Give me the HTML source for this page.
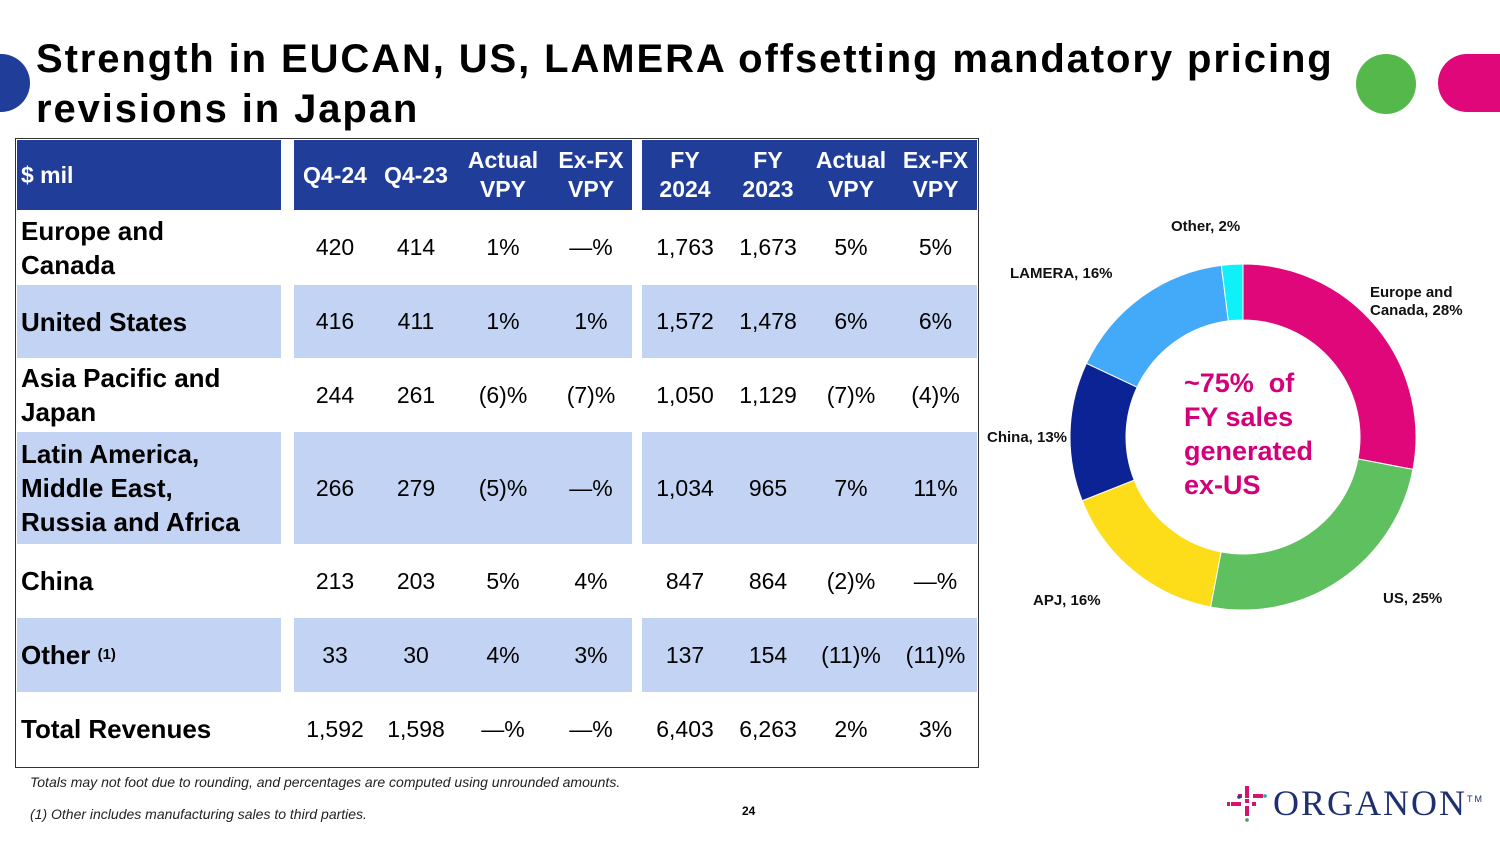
<!DOCTYPE html>
<html><head><meta charset="utf-8"><style>
body{margin:0;width:1500px;height:844px;background:#fff;position:relative;overflow:hidden;font-family:"Liberation Sans",Arial,sans-serif}
.a{position:absolute}
.title{left:36px;top:34px;font-size:40px;font-weight:bold;line-height:50px;color:#000;letter-spacing:1.9px}
.cell{position:absolute;display:flex;align-items:center;justify-content:center;text-align:center;font-size:23px;color:#000}
.lab{justify-content:flex-start;text-align:left;font-weight:bold;font-size:26px;line-height:34px;padding-left:4px}
.hd{color:#fff;font-weight:bold;font-size:23px;line-height:29px}
.dl{position:absolute;font-size:15px;font-weight:bold;color:#111;line-height:18px}
.foot{position:absolute;font-size:14px;font-style:italic;color:#222}
</style></head><body>
<div class="a" style="left:-28px;top:54px;width:58px;height:58px;border-radius:50%;background:#1f3d99"></div>
<div class="a" style="left:1356px;top:54px;width:60px;height:60px;border-radius:50%;background:#55b84a"></div>
<div class="a" style="left:1438px;top:54px;width:100px;height:58px;border-radius:29px;background:#e0077a"></div>
<div class="a title">Strength in EUCAN, US, LAMERA offsetting mandatory pricing<br>revisions in Japan</div>

<div class="a" style="left:15px;top:138px;width:962px;height:628px;border:1px solid #333"></div>
<div id="tbl"></div>

<svg class="a" style="left:0;top:0" width="1500" height="844" id="donut"></svg>
<div class="a" style="left:1184px;top:366px;font-size:27px;font-weight:bold;color:#d4007a;line-height:34px">~75%&nbsp; of<br>FY sales<br>generated<br>ex-US</div>
<div class="dl" style="left:1171px;top:218px">Other, 2%</div>
<div class="dl" style="left:1010px;top:265px">LAMERA, 16%</div>
<div class="dl" style="left:1370px;top:284px">Europe and<br>Canada, 28%</div>
<div class="dl" style="left:987px;top:429px">China, 13%</div>
<div class="dl" style="left:1033px;top:592px">APJ, 16%</div>
<div class="dl" style="left:1383px;top:590px">US, 25%</div>

<div class="foot" style="left:30px;top:774px">Totals may not foot due to rounding, and percentages are computed using unrounded amounts.</div>
<div class="foot" style="left:30px;top:806px">(1) Other includes manufacturing sales to third parties.</div>
<div class="a" style="left:742px;top:804px;font-size:12px;font-weight:bold">24</div>
<div class="a" style="left:1225px;top:780px;width:270px;height:50px">
<svg width="50" height="50" style="position:absolute;left:0;top:0">
<g fill="#d4146e"><rect x="20" y="6" width="4" height="12"/><rect x="20" y="26" width="4" height="10"/><rect x="6" y="22" width="10" height="4"/><rect x="28" y="14" width="10" height="4"/><rect x="13" y="14" width="4" height="4"/><rect x="27" y="22" width="4" height="4"/><rect x="20" y="19" width="4" height="4"/><rect x="2" y="22" width="3" height="4"/></g>
<circle cx="14" cy="17" r="1.8" fill="#1f3d99"/><circle cx="40" cy="16" r="1.8" fill="#1fa3b0"/><circle cx="22" cy="40" r="1.8" fill="#3aa845"/>
</svg>
<div style="position:absolute;left:48px;top:2px;font-family:'Liberation Serif',serif;font-size:36px;color:#1f3070;letter-spacing:2px">ORGANON<sup style="font-size:9px;font-family:'Liberation Sans'">TM</sup></div>
</div>

<script>
const rowLabels=["Europe and<br>Canada","United States","Asia Pacific and<br>Japan","Latin America,<br>Middle East,<br>Russia and Africa","China","Other&nbsp; <sup style='font-size:15px'>(1)</sup>","Total Revenues"];
const colHeads=["Q4-24","Q4-23","Actual<br>VPY","Ex-FX<br>VPY","FY<br>2024","FY<br>2023","Actual<br>VPY","Ex-FX<br>VPY"];
const q424=["420","416","244","266","213","33","1,592"];
const q423=["414","411","261","279","203","30","1,598"];
const qAct=["1%","1%","(6)%","(5)%","5%","4%","—%"];
const qFx=["—%","1%","(7)%","—%","4%","3%","—%"];
const fy24=["1,763","1,572","1,050","1,034","847","137","6,403"];
const fy23=["1,673","1,478","1,129","965","864","154","6,263"];
const fAct=["5%","6%","(7)%","7%","(2)%","(11)%","2%"];
const fFx=["5%","6%","(4)%","11%","—%","(11)%","3%"];
const shaded=[false,true,false,true,false,true,false];
const donutLabels=["Europe and Canada","US","APJ","China","LAMERA","Other"];
const donutValues=[28,25,16,13,16,2];
const donutColors=["#e0077a","#5fc060","#fddc19","#0b2394","#42aaf8","#10f0f8"];

const T=document.getElementById('tbl');
const rowTops=[210,285,358,432,544,618,692,766];
const colX=[[294,376],[376,456],[456,550],[550,632],[642,728],[728,808],[808,894],[894,977]];
const cols=[q424,q423,qAct,qFx,fy24,fy23,fAct,fFx];
function mk(cls,l,t,w,h,html,bg){const d=document.createElement('div');d.className='cell '+cls;d.style.left=l+'px';d.style.top=t+'px';d.style.width=w+'px';d.style.height=h+'px';if(bg)d.style.background=bg;d.innerHTML=html;T.appendChild(d);return d;}
const hb=[[17,281],[294,632],[642,977]];
hb.forEach(([a,b])=>{const d=mk('',a,140,b-a,70,'','#1f3d99');

});
const h0=mk('hd lab',17,140,260,70,'$ mil');


colHeads.forEach((h,i)=>{const d=mk('hd',colX[i][0],140,colX[i][1]-colX[i][0],70,h);

});
rowLabels.forEach((r,ri)=>{const t=rowTops[ri],h=rowTops[ri+1]-t;
if(shaded[ri]){hb.forEach(([a,b])=>{const d=mk('',a,t,b-a,h,'','#c3d3f3');

});}
const l=mk('lab',17,t,260,h,r);


cols.forEach((c,ci)=>{const d=mk('',colX[ci][0],t,colX[ci][1]-colX[ci][0],h,c[ri]);

});
});
const S=document.getElementById('donut'),cx=1243,cy=437,R=173,r=117;
const total=donutValues.reduce((a,b)=>a+b,0);let acc=0;
function pt(rad,f){const a=f*2*Math.PI-Math.PI/2;return [cx+rad*Math.cos(a),cy+rad*Math.sin(a)];}
donutValues.forEach((v,i)=>{const f0=acc/total;acc+=v;const f1=acc/total;const big=(f1-f0)>0.5?1:0;
const [x0,y0]=pt(R,f0),[x1,y1]=pt(R,f1),[x2,y2]=pt(r,f1),[x3,y3]=pt(r,f0);
const p=document.createElementNS('http://www.w3.org/2000/svg','path');
p.setAttribute('d',`M${x0},${y0}A${R},${R} 0 ${big} 1 ${x1},${y1}L${x2},${y2}A${r},${r} 0 ${big} 0 ${x3},${y3}Z`);
p.setAttribute('fill',donutColors[i]);p.setAttribute('stroke','#fff');p.setAttribute('stroke-width','1');


S.appendChild(p);});
</script>
</body></html>
